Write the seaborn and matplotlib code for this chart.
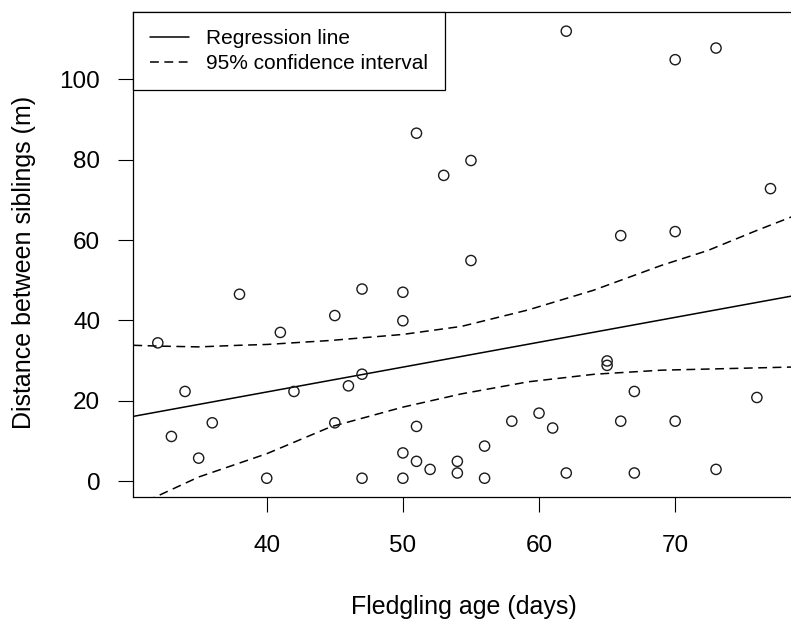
import numpy as np
import pandas as pd
import matplotlib
matplotlib.use("Agg")
import matplotlib.pyplot as plt
import seaborn as sns

# Data
age = [32, 33, 34, 35, 36, 38, 40, 41, 42, 45, 45, 46, 47, 47, 47,
       50, 50, 50, 50, 51, 51, 51, 52, 53, 54, 54, 55, 55, 56, 56,
       58, 60, 61, 62, 62, 65, 65, 66, 66, 67, 67, 70, 70, 70, 73,
       73, 76, 77]
distance = [34.4, 11.1, 22.3, 5.7, 14.5, 46.5, 0.7, 37.0, 22.3, 41.2, 14.5, 23.7, 47.8, 26.6, 0.7,
            47.0, 39.9, 7.0, 0.7, 86.6, 13.6, 4.9, 2.9, 76.1, 4.9, 2.0, 79.8, 54.9, 8.7, 0.7,
            14.9, 16.9, 13.2, 112.0, 2.0, 29.9, 28.8, 61.1, 14.9, 22.3, 2.0, 104.9, 62.1, 14.9, 107.8,
            2.9, 20.8, 72.8]

# Fitted regression line (at the plot edges)
reg_x = [30.2, 78.8]
reg_y = [16.1, 46.2]

# 95% confidence interval curves
ci_x = [30.2, 32.0, 35.0, 38.0, 40.0, 44.7, 50.0, 54.3, 59.2, 64.0, 69.0, 72.4, 76.0, 78.8]
ci_upper = [33.8, 33.6, 33.4, 33.8, 34.0, 35.0, 36.5, 38.5, 42.6, 47.5, 53.7, 57.4, 62.4, 66.1]
ci_lx = [30.2, 32.0, 35.0, 40.0, 44.7, 50.0, 54.3, 59.2, 64.1, 69.0, 73.9, 78.8]
ci_lower = [-6.3, -3.7, 1.0, 6.8, 13.5, 18.4, 21.7, 24.7, 26.6, 27.6, 28.0, 28.4]

x_ticks = [40, 50, 60, 70]
y_ticks = [0, 20, 40, 60, 80, 100]

sns.set_theme(style="white")
plt.rcParams["font.family"] = ["Liberation Sans", "DejaVu Sans"]

fig = plt.figure(figsize=(7.91, 6.25), dpi=100)
ax = fig.add_axes([133.3 / 791, (625 - 496.7) / 625, (795 - 133.3) / 791, (496.7 - 12.3) / 625])
ax.set_xlim(30.2, 78.8)
ax.set_ylim(-3.9, 116.7)

df = pd.DataFrame({"age": age, "distance": distance})
sns.regplot(data=df, x="age", y="distance", ax=ax, fit_reg=False,
            marker="o",
            scatter_kws=dict(facecolors="none", edgecolors="#1a1a1a", s=54,
                             linewidths=1.0, alpha=1, zorder=3))

reg_df = pd.DataFrame({"x": reg_x, "y": reg_y})
sns.lineplot(data=reg_df, x="x", y="y", ax=ax, color="black", lw=1.1,
             label="Regression line")

ci_df_u = pd.DataFrame({"x": ci_x, "y": ci_upper})
ci_df_l = pd.DataFrame({"x": ci_lx, "y": ci_lower})
sns.lineplot(data=ci_df_u, x="x", y="y", ax=ax, color="black", lw=1.1,
             linestyle=(0, (5.8, 3.6)), label="95% confidence interval")
sns.lineplot(data=ci_df_l, x="x", y="y", ax=ax, color="black", lw=1.1,
             linestyle=(0, (5.8, 3.6)))

ax.set_xlim(30.2, 78.8)
ax.set_ylim(-3.9, 116.7)
ax.set_xticks(x_ticks)
ax.set_yticks(y_ticks)
ax.tick_params(axis="both", direction="out", length=10.8, width=0.8, color="black",
               labelsize=17.5, labelcolor="black", bottom=True, left=True)
ax.tick_params(axis="y", pad=13)
ax.tick_params(axis="x", pad=16.5)

for sp in ax.spines.values():
    sp.set_visible(True)
    sp.set_color("black")
    sp.set_linewidth(0.9)

ax.set_xlabel("Fledgling age (days)", fontsize=18, color="black", va="center")
ax.set_ylabel("Distance between siblings (m)", fontsize=18, color="black", va="center")
ax.xaxis.set_label_coords(464 / 791, 1 - 607 / 625, transform=fig.transFigure)
ax.yaxis.set_label_coords(24 / 791, 1 - 262 / 625, transform=fig.transFigure)

leg = ax.legend(loc="upper left", bbox_to_anchor=(0, 1), borderaxespad=0,
                fontsize=15, frameon=True, fancybox=False, framealpha=1,
                edgecolor="black", handlelength=1.87, handletextpad=0.78,
                labelspacing=0.26, borderpad=0.82)
leg.get_frame().set_linewidth(0.9)
for t in leg.get_texts():
    t.set_color("black")

fig.savefig("out.png", dpi=100)
